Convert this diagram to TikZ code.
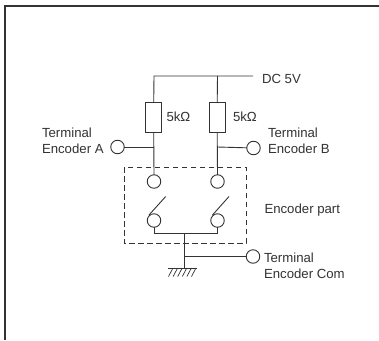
\documentclass[tikz,border=0pt]{standalone}
\usepackage{fontspec}
\setmainfont{Liberation Sans}
\definecolor{ink}{HTML}{333333}
\tikzset{
  wire/.style={draw=ink,line width=0.9pt},
  term/.style={circle,draw=ink,line width=0.9pt,minimum size=13.5pt,inner sep=0pt,outer sep=0pt},
  res/.style={rectangle,draw=ink,line width=0.9pt,minimum width=16pt,minimum height=30pt,inner sep=0pt,outer sep=0pt},
  lbl/.style={anchor=base west,inner sep=0pt,outer sep=0pt,text=ink,font=\fontsize{13.2}{14}\selectfont},
}
\begin{document}
\begin{tikzpicture}[x=1pt,y=-1pt]
\useasboundingbox (0,0) rectangle (379,340);
\fill[white] (0,0) rectangle (379,340);
% frame
\draw[ink,line width=2pt] (4.5,340) -- (4.5,5.5) -- (379,5.5);
% coordinates
\coordinate (railL) at (154,76);
\coordinate (railM) at (217.5,76);
\coordinate (railE) at (253,76);
\coordinate (jA) at (154,147);
\coordinate (jB) at (217.5,147);
\coordinate (busL) at (154,233.7);
\coordinate (busM) at (184,233.7);
\coordinate (busR) at (217.5,233.7);
\coordinate (jC) at (184,256.5);
\coordinate (gnd) at (184,268);
\coordinate (gndL) at (168,268);
\coordinate (gndR) at (197,268);
\coordinate (bladeLa) at (149,215);
\coordinate (bladeLb) at (165.7,196.5);
\coordinate (bladeRa) at (212.5,215);
\coordinate (bladeRb) at (229,196.5);
% nodes
\node[res] (r1) at (153.7,117.7) {};
\node[res] (r2) at (217.2,117.7) {};
\node[term] (tA) at (117.5,147) {};
\node[term] (tB) at (253.5,148) {};
\node[term] (tC) at (253,256.5) {};
\node[term] (c1) at (154,181.5) {};
\node[term] (c2) at (217.5,181.5) {};
\node[term] (c3) at (154,220.5) {};
\node[term] (c4) at (217.5,220.5) {};
% wires
\draw[wire] (railE) -- (railL) -- (r1.north);
\draw[wire] (railM) -- (r2.north);
\draw[wire] (r1.south) -- (c1.north);
\draw[wire] (r2.south) -- (c2.north);
\draw[wire] (tA) -- (jA);
\draw[wire] (jB) -- (tB);
\draw[wire] (bladeLa) -- (bladeLb);
\draw[wire] (bladeRa) -- (bladeRb);
\draw[wire] (c3.south) -- (busL) -- (busR) -- (c4.south);
\draw[wire] (busM) -- (gnd);
\draw[wire] (jC) -- (tC);
\draw[wire] (gndL) -- (gndR);
\foreach \i in {0,1,2,3,4,5}
  \draw[ink,line width=0.7pt] (173+\i*4.6,268) -- (168.5+\i*4.6,276.5);
% dashed box
\draw[ink,line width=0.8pt,dash pattern=on 5.5pt off 3.5pt] (124,167) rectangle (246,243);
% labels
\node[lbl] (l1) at (262,83.5) {DC 5V};
\node[lbl] (l2) at (166.5,121) {5kΩ};
\node[lbl] (l3) at (233,121) {5kΩ};
\node[lbl] (l4) at (42,137) {Terminal};
\node[lbl] (l5) at (42,153) {Encoder A};
\node[lbl] (l6) at (268,137) {Terminal};
\node[lbl] (l7) at (268,153) {Encoder B};
\node[lbl] (l8) at (264.5,213.5) {Encoder part};
\node[lbl] (l9) at (264,262) {Terminal};
\node[lbl] (l10) at (264,278) {Encoder Com};
\end{tikzpicture}
\end{document}
